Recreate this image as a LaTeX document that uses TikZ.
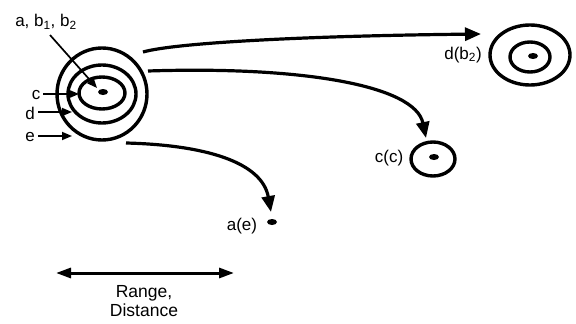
\documentclass[tikz,border=0pt]{standalone}
\usepackage{fontspec}
\setmainfont{Liberation Sans}
\usetikzlibrary{arrows.meta,shapes.geometric}
\begin{document}
\begin{tikzpicture}[x=1pt,y=-1pt,
  ringnode/.style={ellipse, draw, line width=3.4pt, inner sep=0pt, outer sep=0pt},
  dotnode/.style={ellipse, fill, minimum width=10pt, minimum height=6pt, inner sep=0pt},
  lab/.style={font=\fontsize{17}{19}\selectfont, inner sep=0pt},
  thinarrow/.style={line width=1.7pt, -{Triangle[length=10pt,width=8pt]}},
  bigarrow/.style={line width=3.2pt, -{Triangle[length=16pt,width=13pt]}},
  rangearrow/.style={line width=3pt, {Triangle[length=15pt,width=10pt]}-{Triangle[length=15pt,width=10pt]}}]
\useasboundingbox (0,0) rectangle (576,324);
% left target
\node[ringnode, minimum width=90pt, minimum height=92pt] (L3) at (102,94) {};
\node[ringnode, minimum width=68pt, minimum height=58pt] (L2) at (102,94) {};
\node[ringnode, minimum width=46pt, minimum height=32pt] (L1) at (102,93) {};
\node[dotnode] (L0) at (103,92) {};
% right target d(b2)
\node[ringnode, minimum width=80pt, minimum height=60pt] (R2) at (530,55) {};
\node[ringnode, minimum width=40pt, minimum height=30pt] (R1) at (530,57) {};
\node[dotnode] (R0) at (533,56) {};
% c(c) target
\node[ringnode, minimum width=44pt, minimum height=34pt] (C1) at (433,159) {};
\node[dotnode] (C0) at (434,157) {};
% a(e) dot
\node[dotnode] (A0) at (272,222) {};
% labels
\node[lab] (labab) at (46,22) {a, b\textsubscript{1}, b\textsubscript{2}};
\node[lab] (labc) at (36,95) {c};
\node[lab] (labd) at (30,113) {d};
\node[lab] (labe) at (30,137) {e};
\node[lab] (labdb) at (463,55) {d(b\textsubscript{2})};
\node[lab] (labcc) at (389,158) {c(c)};
\node[lab] (labae) at (242,226) {a(e)};
\node[font=\fontsize{17.5}{19}\selectfont, align=center, inner sep=0pt] (range) at (144,301) {Range,\\Distance};
% thin pointer arrows
\coordinate (abS) at (50,35);
\coordinate (abE) at (97,88);
\draw[thinarrow] (abS) -- (abE);
\coordinate (cS) at (43,94);
\coordinate (cE) at (79,94);
\draw[thinarrow] (cS) -- (cE);
\coordinate (dS) at (38,112);
\coordinate (dE) at (72,112);
\draw[thinarrow] (dS) -- (dE);
\coordinate (eS) at (38,136);
\coordinate (eE) at (72,136);
\draw[thinarrow] (eS) -- (eE);
% big curved arrows
\coordinate (s1) at (143,52);
\coordinate (t1) at (481,34);
\draw[bigarrow] (s1) .. controls (175,43) and (300,36) .. (t1);
\coordinate (s2) at (148,71);
\coordinate (t2) at (426,138);
\draw[bigarrow] (s2) .. controls (300,66) and (415,85) .. (t2);
\coordinate (s3) at (126,143);
\coordinate (t3) at (271,212);
\draw[bigarrow] (s3) .. controls (205,145) and (262,162) .. (t3);
% range arrow
\coordinate (r1) at (56,273);
\coordinate (r2) at (234,273);
\draw[rangearrow] (r1) -- (r2);
\end{tikzpicture}
\end{document}
